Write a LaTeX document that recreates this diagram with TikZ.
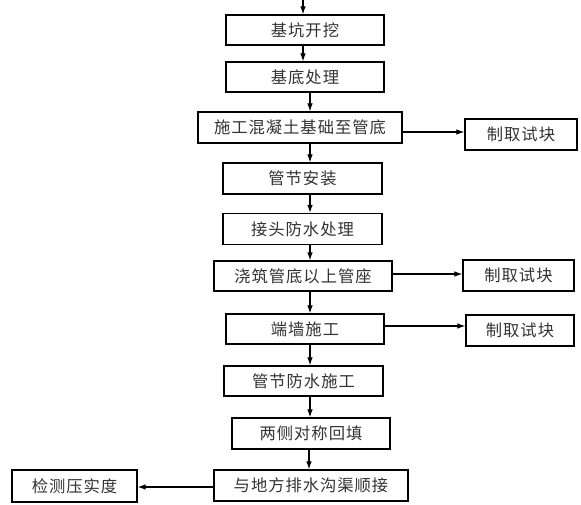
\documentclass[tikz,border=0pt]{standalone}
\usepackage{fontspec}
\newfontfamily\cjk[LetterSpace=6]{Noto Sans CJK SC}
\usetikzlibrary{arrows.meta}
\tikzset{
  box/.style={draw=black, line width=1.2pt, rectangle, inner sep=0pt, anchor=center,
    font=\cjk\fontsize{16.3}{17}\selectfont, text=black!80},
  arr/.style={draw=black, line width=1.1pt, -{Latex[length=8pt,width=5.5pt]}}
}
\begin{document}
\begin{tikzpicture}[x=1pt,y=-1pt]
\useasboundingbox[fill=white] (0,0) rectangle (581,505);
\coordinate (top) at (303,0);
\coordinate (xa) at (303,0);
\coordinate (xb) at (310,0);
\coordinate (xc) at (309,0);
\node[box, minimum width=158pt, minimum height=30pt] (b1) at (305,30) {基坑开挖};
\node[box, minimum width=158pt, minimum height=30pt] (b2) at (305,77) {基底处理};
\node[box, minimum width=204pt, minimum height=31pt] (b3) at (300,127.5) {施工混凝土基础至管底};
\node[box, minimum width=112pt, minimum height=31pt] (r1) at (521,134.5) {制取试块};
\node[box, minimum width=159pt, minimum height=31pt] (b4) at (302.5,178.5) {管节安装};
\node[box, minimum width=159pt, minimum height=31pt] (b5) at (302.5,229) {接头防水处理};
\node[box, minimum width=178pt, minimum height=30pt] (b6) at (303,276) {浇筑管底以上管座};
\node[box, minimum width=111pt, minimum height=31pt] (r2) at (518.5,275.5) {制取试块};
\node[box, minimum width=158pt, minimum height=30pt] (b7) at (305,329) {端墙施工};
\node[box, minimum width=108pt, minimum height=31pt] (r3) at (520,330.5) {制取试块};
\node[box, minimum width=159pt, minimum height=30pt] (b8) at (303.5,381) {管节防水施工};
\node[box, minimum width=158pt, minimum height=31pt] (b9) at (311,433.5) {两侧对称回填};
\node[box, minimum width=194pt, minimum height=31pt] (b10) at (311,485.5) {与地方排水沟渠顺接};
\node[box, minimum width=125pt, minimum height=32pt] (l1) at (74.5,486) {检测压实度};
% vertical connectors
\draw[arr] (top) -- (b1.north -| xa);
\draw[arr] (b1.south -| xa) -- (b2.north -| xa);
\draw[arr] (b2.south -| xb) -- (b3.north -| xb);
\draw[arr] (b3.south -| xb) -- (b4.north -| xb);
\draw[arr] (b4.south -| xb) -- (b5.north -| xb);
\draw[arr] (b5.south -| xb) -- (b6.north -| xb);
\draw[arr] (b6.south -| xb) -- (b7.north -| xb);
\draw[arr] (b7.south -| xb) -- (b8.north -| xb);
\draw[arr] (b8.south -| xb) -- (b9.north -| xb);
\draw[arr] (b9.south -| xc) -- (b10.north -| xc);
% side connectors
\coordinate (y1) at (0,132);
\coordinate (y2) at (0,274);
\coordinate (y3) at (0,326);
\coordinate (y4) at (0,487);
\draw[arr] (b3.east |- y1) -- (r1.west |- y1);
\draw[arr] (b6.east |- y2) -- (r2.west |- y2);
\draw[arr] (b7.east |- y3) -- (r3.west |- y3);
\draw[arr] (b10.west |- y4) -- (l1.east |- y4);
\end{tikzpicture}
\end{document}
